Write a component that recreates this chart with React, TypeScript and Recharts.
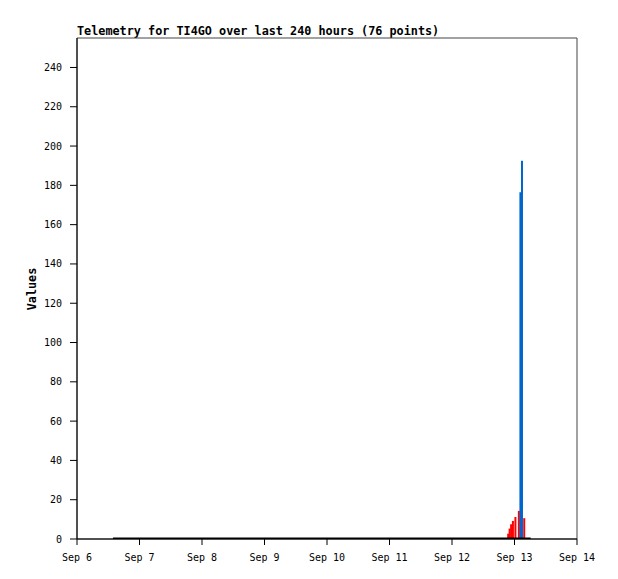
import { ComposedChart, Bar, Line, XAxis, YAxis, ReferenceArea } from 'recharts';

// x values are hours after Sep 6 00:00
const dayTicks = [0, 24, 48, 72, 96, 120, 144, 168, 192];
const dayLabels = ['Sep 6', 'Sep 7', 'Sep 8', 'Sep 9', 'Sep 10', 'Sep 11', 'Sep 12', 'Sep 13', 'Sep 14'];
const valueTicks = [0, 20, 40, 60, 80, 100, 120, 140, 160, 180, 200, 220, 240];

const redHours = [165.6, 166.15, 166.73, 167.42, 168.38, 169.7, 171.76];
const redValues = [2.7, 5.3, 7.5, 9.2, 11.2, 14.3, 10.6];
const blueHours = [170.3, 170.9];
const blueValues = [176.5, 192.5];
const baseHours = [13.8, 174.2];
const baseValues = [0, 0];

type Row = { t: number; red?: number; blue?: number; base?: number };

const rows: Row[] = [
  ...baseHours.map((t, i) => ({ t, base: baseValues[i] })),
  ...redHours.map((t, i) => ({ t, red: redValues[i] })),
  ...blueHours.map((t, i) => ({ t, blue: blueValues[i] })),
].sort((a, b) => a.t - b.t);

const mono = '"DejaVu Sans Mono", monospace';

// thin impulse bar centred on the library's bar slot
const impulse = (color: string) => (props: any) => {
  const { x, y, width, height } = props;
  if (!height || height <= 0) return <g />;
  return <rect x={x + width / 2 - 1} y={y} width={2} height={height} fill={color} />;
};

export default function App() {
  return (
    <div style={{ position: 'absolute', left: 0, top: 0, width: 618, height: 579, background: '#fff' }}>
      <div
        style={{
          position: 'absolute',
          left: 77,
          top: 26,
          fontFamily: mono,
          fontWeight: 'bold',
          fontSize: 11.8,
          lineHeight: 1,
          whiteSpace: 'nowrap',
        }}
      >
        Telemetry for TI4GO over last 240 hours (76 points)
      </div>
      <div
        style={{
          position: 'absolute',
          left: 33,
          top: 289,
          transform: 'translate(-50%, -50%) rotate(-90deg)',
          fontFamily: mono,
          fontWeight: 'bold',
          fontSize: 11.8,
          lineHeight: 1,
        }}
      >
        Values
      </div>
      <ComposedChart
        width={618}
        height={580}
        data={rows}
        margin={{ top: 38, right: 41, bottom: 0, left: 0 }}
        style={{ position: 'absolute', left: 0, top: 0 }}
      >
        <ReferenceArea x1={0} x2={192} y1={0} y2={255} fill="none" stroke="#444" strokeWidth={1} fillOpacity={0} ifOverflow="visible" />
        <XAxis
          dataKey="t"
          type="number"
          domain={[0, 192]}
          ticks={dayTicks}
          interval={0}
          tickFormatter={(v: number) => dayLabels[dayTicks.indexOf(v)]}
          height={41}
          tickSize={6}
          tickMargin={9}
          stroke="#000"
          tick={{ fill: '#000', fontFamily: mono, fontSize: 10 }}
          allowDataOverflow
        />
        <YAxis
          type="number"
          domain={[0, 255]}
          ticks={valueTicks}
          interval={0}
          width={77}
          tickSize={7}
          tickMargin={8}
          stroke="#000"
          tick={{ fill: '#000', fontFamily: mono, fontSize: 10 }}
          allowDataOverflow
        />
        <Bar dataKey="red" stackId="v" fill="#ff0000" barSize={2} shape={impulse('#ff0000')} isAnimationActive={false} />
        <Bar dataKey="blue" stackId="v" fill="#0066cc" barSize={2} shape={impulse('#0066cc')} isAnimationActive={false} />
        <Line dataKey="base" stroke="#000" strokeWidth={3} dot={false} connectNulls isAnimationActive={false} />
      </ComposedChart>
    </div>
  );
}
